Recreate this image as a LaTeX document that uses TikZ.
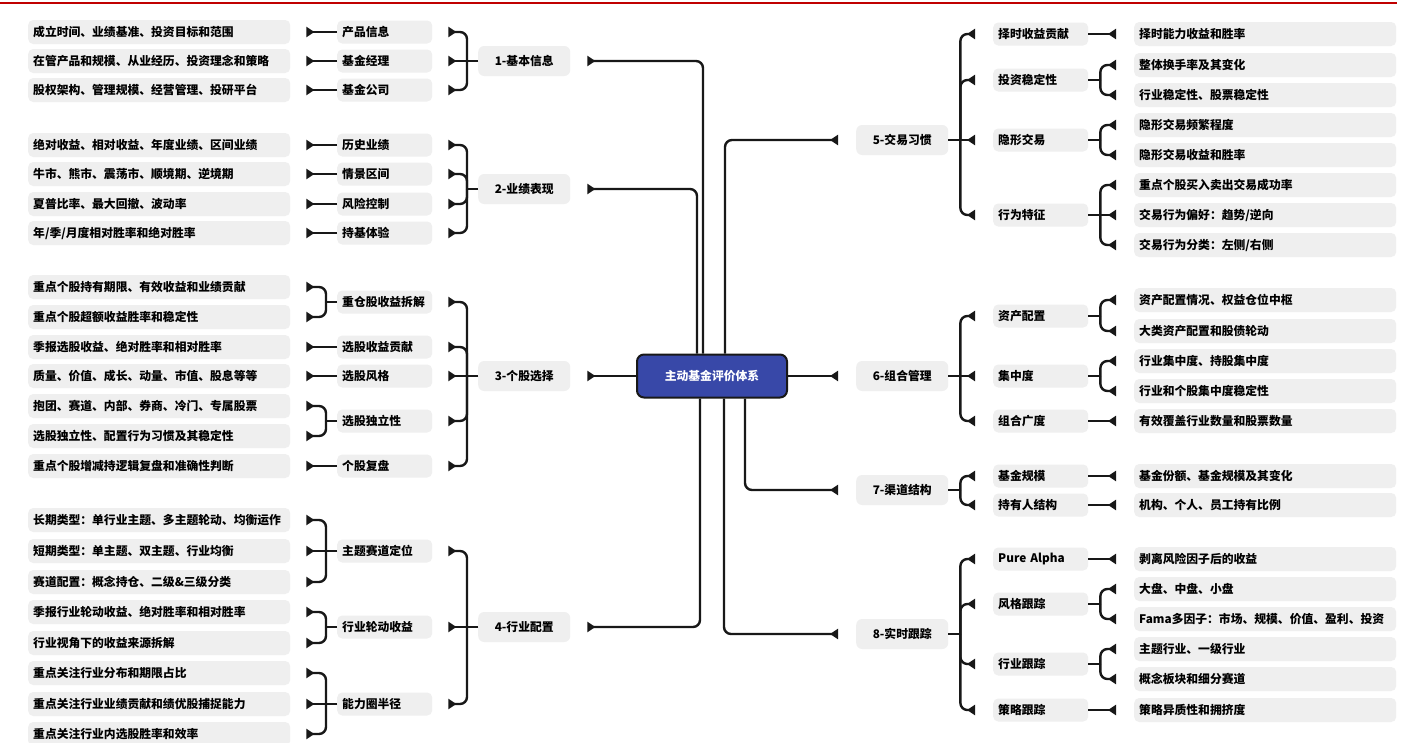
\documentclass[tikz,border=0pt]{standalone}
\usepackage{fontspec}
\setmainfont{Noto Sans CJK SC}
\usetikzlibrary{arrows.meta}
\definecolor{BoxGray}{RGB}{239,239,239}
\definecolor{RootBlue}{RGB}{56,72,168}
\definecolor{InkBlack}{RGB}{24,24,24}
\definecolor{RuleRed}{RGB}{192,0,0}
\newcommand\mapfont{\fontsize{11.8}{14}\selectfont\bfseries}
\tikzset{
  root/.style={draw=InkBlack,line width=2pt,fill=RootBlue,rounded corners=7pt,
    minimum width=150pt,minimum height=43pt,text=white,font=\mapfont},
  topic/.style={anchor=west,fill=BoxGray,rounded corners=6pt,minimum width=92pt,
    minimum height=30pt,inner sep=0pt,font=\mapfont},
  subtopic/.style={anchor=west,fill=BoxGray,rounded corners=5pt,minimum height=23pt,
    text width=85pt,align=left,inner xsep=5pt,inner ysep=0pt,font=\mapfont},
  leaf/.style={anchor=west,fill=BoxGray,rounded corners=5pt,minimum height=24pt,
    text width=252pt,align=left,inner xsep=5pt,inner ysep=0pt,font=\mapfont},
  stem/.style={line width=2.4pt,InkBlack},
  link/.style={stem,rounded corners=7pt,-{Triangle[reversed,length=8pt,width=10pt]}}
}
% forks (bent kids) and twigs (kid on the same row), left and right of the root
\newcommand\forkleft[2]{%
  \draw[stem] (#1.west) -- ++(-11,0) coordinate (#1-j);
  \foreach \kid in {#2} \draw[link] (#1-j) |- ([xshift=16pt]\kid.east);}
\newcommand\twigleft[2]{\draw[link] (#1.west) -- ([xshift=16pt]#2.east);}
\newcommand\forkright[2]{%
  \draw[stem] (#1.east) -- ++(12,0) coordinate (#1-j);
  \foreach \kid in {#2} \draw[link] (#1-j) |- ([xshift=-18pt]\kid.west);}
\newcommand\twigright[2]{\draw[link] (#1.east) -- ([xshift=-18pt]#2.west);}

\begin{document}
\begin{tikzpicture}[x=1pt,y=-1pt]
  \fill[white] (0,0) rectangle (1408,742);
  \useasboundingbox (0,0) rectangle (1408,742);
  \draw[RuleRed,line width=2pt] (0,3) -- (1397,3);

  \node[root] (root) at (712,376) {主动基金评价体系};

  % 1-基本信息
  \node[topic] (g1) at (478,61) {1-基本信息};
  \node[subtopic] (g1a) at (337,32) {产品信息};
  \node[subtopic] (g1b) at (337,61) {基金经理};
  \node[subtopic] (g1c) at (337,90) {基金公司};
  \node[leaf] (g1a1) at (28,32) {成立时间、业绩基准、投资目标和范围};
  \node[leaf] (g1b1) at (28,61) {在管产品和规模、从业经历、投资理念和策略};
  \node[leaf] (g1c1) at (28,90) {股权架构、管理规模、经营管理、投研平台};
  \forkleft{g1}{g1a,g1c}
  \twigleft{g1}{g1b}
  \twigleft{g1a}{g1a1}
  \twigleft{g1b}{g1b1}
  \twigleft{g1c}{g1c1}

  % 2-业绩表现
  \node[topic] (g2) at (478,189) {2-业绩表现};
  \node[subtopic] (g2a) at (337,145) {历史业绩};
  \node[subtopic] (g2b) at (337,174) {情景区间};
  \node[subtopic] (g2c) at (337,204) {风险控制};
  \node[subtopic] (g2d) at (337,233) {持基体验};
  \node[leaf] (g2a1) at (28,145) {绝对收益、相对收益、年度业绩、区间业绩};
  \node[leaf] (g2b1) at (28,174) {牛市、熊市、震荡市、顺境期、逆境期};
  \node[leaf] (g2c1) at (28,204) {夏普比率、最大回撤、波动率};
  \node[leaf] (g2d1) at (28,233) {年/季/月度相对胜率和绝对胜率};
  \forkleft{g2}{g2a,g2b,g2c,g2d}
  \twigleft{g2a}{g2a1}
  \twigleft{g2b}{g2b1}
  \twigleft{g2c}{g2c1}
  \twigleft{g2d}{g2d1}

  % 3-个股选择
  \node[topic] (g3) at (478,376) {3-个股选择};
  \node[subtopic] (g3a) at (337,302) {重仓股收益拆解};
  \node[subtopic] (g3b) at (337,347) {选股收益贡献};
  \node[subtopic] (g3c) at (337,376) {选股风格};
  \node[subtopic] (g3d) at (337,421) {选股独立性};
  \node[subtopic] (g3e) at (337,466) {个股复盘};
  \node[leaf] (g3a1) at (28,287) {重点个股持有期限、有效收益和业绩贡献};
  \node[leaf] (g3a2) at (28,317) {重点个股超额收益胜率和稳定性};
  \node[leaf] (g3b1) at (28,347) {季报选股收益、绝对胜率和相对胜率};
  \node[leaf] (g3c1) at (28,376) {质量、价值、成长、动量、市值、股息等等};
  \node[leaf] (g3d1) at (28,406) {抱团、赛道、内部、券商、冷门、专属股票};
  \node[leaf] (g3d2) at (28,436) {选股独立性、配置行为习惯及其稳定性};
  \node[leaf] (g3e1) at (28,466) {重点个股增减持逻辑复盘和准确性判断};
  \forkleft{g3}{g3a,g3b,g3d,g3e}
  \twigleft{g3}{g3c}
  \forkleft{g3a}{g3a1,g3a2}
  \twigleft{g3b}{g3b1}
  \twigleft{g3c}{g3c1}
  \forkleft{g3d}{g3d1,g3d2}
  \twigleft{g3e}{g3e1}

  % 4-行业配置
  \node[topic] (g4) at (478,627) {4-行业配置};
  \node[subtopic] (g4a) at (337,551) {主题赛道定位};
  \node[subtopic] (g4b) at (337,627) {行业轮动收益};
  \node[subtopic] (g4c) at (337,704) {能力圈半径};
  \node[leaf] (g4a1) at (28,520) {长期类型：单行业主题、多主题轮动、均衡运作};
  \node[leaf] (g4a2) at (28,551) {短期类型：单主题、双主题、行业均衡};
  \node[leaf] (g4a3) at (28,582) {赛道配置：概念持仓、二级\&三级分类};
  \node[leaf] (g4b1) at (28,612) {季报行业轮动收益、绝对胜率和相对胜率};
  \node[leaf] (g4b2) at (28,643) {行业视角下的收益来源拆解};
  \node[leaf] (g4c1) at (28,673) {重点关注行业分布和期限占比};
  \node[leaf] (g4c2) at (28,704) {重点关注行业业绩贡献和绩优股捕捉能力};
  \node[leaf] (g4c3) at (28,734) {重点关注行业内选股胜率和效率};
  \forkleft{g4}{g4a,g4c}
  \twigleft{g4}{g4b}
  \forkleft{g4a}{g4a1,g4a3}
  \twigleft{g4a}{g4a2}
  \forkleft{g4b}{g4b1,g4b2}
  \forkleft{g4c}{g4c1,g4c3}
  \twigleft{g4c}{g4c2}

  % 5-交易习惯
  \node[topic] (g5) at (856,140) {5-交易习惯};
  \node[subtopic] (g5a) at (993,34) {择时收益贡献};
  \node[subtopic] (g5b) at (993,80) {投资稳定性};
  \node[subtopic] (g5c) at (993,140) {隐形交易};
  \node[subtopic] (g5d) at (993,215) {行为特征};
  \node[leaf] (g5a1) at (1134,34) {择时能力收益和胜率};
  \node[leaf] (g5b1) at (1134,65) {整体换手率及其变化};
  \node[leaf] (g5b2) at (1134,95) {行业稳定性、股票稳定性};
  \node[leaf] (g5c1) at (1134,125) {隐形交易频繁程度};
  \node[leaf] (g5c2) at (1134,155) {隐形交易收益和胜率};
  \node[leaf] (g5d1) at (1134,185) {重点个股买入卖出交易成功率};
  \node[leaf] (g5d2) at (1134,215) {交易行为偏好：趋势/逆向};
  \node[leaf] (g5d3) at (1134,245) {交易行为分类：左侧/右侧};
  \forkright{g5}{g5a,g5b,g5d}
  \twigright{g5}{g5c}
  \twigright{g5a}{g5a1}
  \forkright{g5b}{g5b1,g5b2}
  \forkright{g5c}{g5c1,g5c2}
  \forkright{g5d}{g5d1,g5d3}
  \twigright{g5d}{g5d2}

  % 6-组合管理
  \node[topic] (g6) at (856,376) {6-组合管理};
  \node[subtopic] (g6a) at (993,316) {资产配置};
  \node[subtopic] (g6b) at (993,376) {集中度};
  \node[subtopic] (g6c) at (993,421) {组合广度};
  \node[leaf] (g6a1) at (1134,300) {资产配置情况、权益仓位中枢};
  \node[leaf] (g6a2) at (1134,331) {大类资产配置和股债轮动};
  \node[leaf] (g6b1) at (1134,361) {行业集中度、持股集中度};
  \node[leaf] (g6b2) at (1134,391) {行业和个股集中度稳定性};
  \node[leaf] (g6c1) at (1134,421) {有效覆盖行业数量和股票数量};
  \forkright{g6}{g6a,g6c}
  \twigright{g6}{g6b}
  \forkright{g6a}{g6a1,g6a2}
  \forkright{g6b}{g6b1,g6b2}
  \twigright{g6c}{g6c1}

  % 7-渠道结构
  \node[topic] (g7) at (856,490) {7-渠道结构};
  \node[subtopic] (g7a) at (993,476) {基金规模};
  \node[subtopic] (g7b) at (993,505) {持有人结构};
  \node[leaf] (g7a1) at (1134,476) {基金份额、基金规模及其变化};
  \node[leaf] (g7b1) at (1134,505) {机构、个人、员工持有比例};
  \forkright{g7}{g7a,g7b}
  \twigright{g7a}{g7a1}
  \twigright{g7b}{g7b1}

  % 8-实时跟踪
  \node[topic] (g8) at (856,634) {8-实时跟踪};
  \node[subtopic] (g8a) at (993,559) {Pure Alpha};
  \node[subtopic] (g8b) at (993,604) {风格跟踪};
  \node[subtopic] (g8c) at (993,664) {行业跟踪};
  \node[subtopic] (g8d) at (993,710) {策略跟踪};
  \node[leaf] (g8a1) at (1134,559) {剥离风险因子后的收益};
  \node[leaf] (g8b1) at (1134,589) {大盘、中盘、小盘};
  \node[leaf] (g8b2) at (1134,619) {Fama多因子：市场、规模、价值、盈利、投资};
  \node[leaf] (g8c1) at (1134,649) {主题行业、一级行业};
  \node[leaf] (g8c2) at (1134,679) {概念板块和细分赛道};
  \node[leaf] (g8d1) at (1134,710) {策略异质性和拥挤度};
  \forkright{g8}{g8a,g8b,g8c,g8d}
  \twigright{g8a}{g8a1}
  \forkright{g8b}{g8b1,g8b2}
  \forkright{g8c}{g8c1,g8c2}
  \twigright{g8d}{g8d1}

  % root to the eight topics
  \draw[link] ([xshift=-9pt]root.north) |- ([xshift=17pt]g1.east);
  \draw[link] ([xshift=-15pt]root.north) |- ([xshift=17pt]g2.east);
  \draw[link] (root.west) -- ([xshift=17pt]g3.east);
  \draw[link] ([xshift=-12pt]root.south) |- ([xshift=17pt]g4.east);
  \draw[link] ([xshift=13pt]root.north) |- ([xshift=-18pt]g5.west);
  \draw[link] (root.east) -- ([xshift=-18pt]g6.west);
  \draw[link] ([xshift=33pt]root.south) |- ([xshift=-18pt]g7.west);
  \draw[link] ([xshift=12pt]root.south) |- ([xshift=-18pt]g8.west);
\end{tikzpicture}
\end{document}
